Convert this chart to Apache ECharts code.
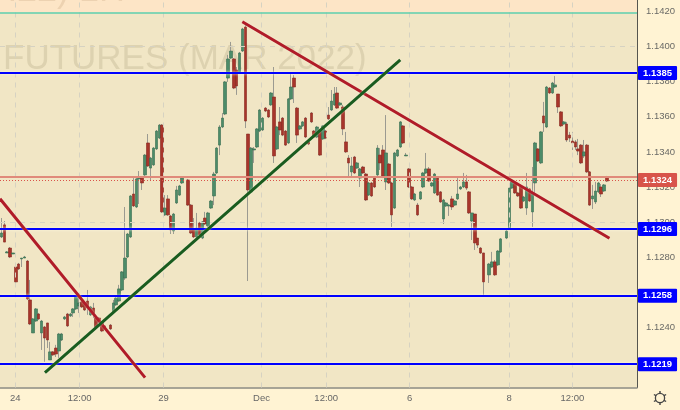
<!DOCTYPE html>
<html><head><meta charset="utf-8">
<style>html,body{margin:0;padding:0;background:#fff3d3}#c{width:680px;height:410px}</style>
<script src="https://cdn.jsdelivr.net/npm/echarts@6/dist/echarts.min.js"></script>
</head><body><div id="c"></div>
<script>
const opens=[1.12915,1.12984,1.12824,1.12852,1.12818,1.12744,1.12761,1.12790,1.12795,1.12778,1.12556,1.12368,1.12436,1.12476,1.12368,1.12402,1.12425,1.12214,1.12260,1.12282,1.12265,1.12328,1.12448,1.12476,1.12465,1.12482,1.12505,1.12522,1.12545,1.12539,1.12550,1.12471,1.12510,1.12453,1.12453,1.12431,1.12408,null,1.12413,1.12488,1.12528,1.12550,1.12613,1.12681,1.12801,1.12915,1.13160,1.13086,1.13246,1.13251,1.13269,1.13451,1.13308,1.13326,1.13417,1.13479,1.13553,1.13041,1.13132,1.13035,1.12949,1.13109,1.13154,1.13223,null,1.13240,1.13097,1.12955,1.12915,1.12995,1.12909,1.13023,1.12978,1.13080,1.13149,1.13280,1.13439,1.13542,1.13616,1.13821,1.13935,1.13930,1.13867,1.13856,1.13975,1.14112,1.13502,1.13172,1.13411,1.13428,1.13519,1.13525,1.13650,1.13639,1.13668,1.13713,1.13417,1.13571,1.13593,1.13519,1.13451,1.13702,1.13821,1.13650,1.13531,1.13548,1.13593,1.13457,1.13622,1.13519,1.13485,1.13519,1.13474,1.13519,1.13610,1.13639,1.13668,1.13736,1.13668,1.13656,1.13457,1.13365,1.13286,1.13371,1.13308,1.13251,1.13314,1.13274,1.13154,1.13223,1.13257,1.13269,1.13382,1.13411,1.13229,1.13331,1.13223,1.13080,1.13377,1.13428,1.13548,1.13377,1.13303,1.13200,1.13126,1.13097,1.13132,1.13200,1.13280,1.13303,1.13206,1.13166,1.13251,1.13172,1.13018,1.13092,1.13092,1.13132,1.13097,1.13132,1.13189,1.13200,1.13229,1.13172,1.13006,1.13046,1.12909,1.12852,1.12824,null,1.12699,1.12744,1.12773,1.12756,1.12830,null,1.12909,1.12961,1.13194,1.13217,1.13166,1.13200,1.13120,1.13080,1.13189,1.13058,1.13223,1.13417,1.13337,1.13605,1.13542,1.13764,1.13736,1.13770,1.13730,1.13628,1.13559,1.13559,1.13496,1.13462,1.13457,1.13417,1.13439,1.13377,1.13439,1.13286,1.13132,1.13115,1.13172,1.13200,1.13177,1.13257];
const closes=[1.12938,1.12886,1.12830,1.12801,1.12824,1.12659,1.12733,1.12795,1.12801,1.12562,1.12419,1.12448,1.12505,1.12448,1.12436,1.12339,1.12328,1.12260,1.12243,1.12248,1.12362,1.12362,1.12459,1.12408,1.12476,1.12505,1.12573,1.12539,1.12516,1.12499,1.12510,1.12516,1.12482,1.12402,1.12431,1.12379,1.12402,null,1.12391,1.12539,1.12567,1.12619,1.12716,1.12795,1.12932,1.13149,1.13092,1.13246,1.13251,1.13223,1.13382,1.13320,1.13365,1.13422,1.13519,1.13553,1.13058,1.13080,1.13041,1.12955,1.13046,1.13183,1.13206,1.13251,null,1.13097,1.12938,1.12915,1.12966,1.12927,1.13001,1.12989,1.13052,1.13120,1.13274,1.13422,1.13542,1.13593,1.13799,1.13930,1.13975,1.13764,1.13776,1.13964,1.14101,1.13576,1.13183,1.13422,1.13417,1.13531,1.13639,1.13593,1.13633,1.13599,1.13736,1.13377,1.13542,1.13525,1.13496,1.13439,1.13702,1.13770,1.13770,1.13496,1.13548,1.13571,1.13485,1.13445,1.13571,1.13485,1.13542,1.13382,1.13548,1.13479,1.13588,1.13690,1.13730,1.13650,1.13679,1.13531,1.13400,1.13337,1.13320,1.13280,1.13337,1.13303,1.13280,1.13126,1.13223,1.13149,1.13200,1.13422,1.13337,1.13263,1.13394,1.13223,1.13041,1.13394,1.13411,1.13571,1.13451,1.13382,1.13200,1.13132,1.13160,1.13041,1.13172,1.13280,1.13303,1.13234,1.13223,1.13274,1.13154,1.13115,1.13126,1.13109,1.13097,1.13086,1.13120,1.13160,1.13200,1.13229,1.13194,1.13052,1.13052,1.12881,1.12869,1.12824,1.12659,null,1.12761,1.12773,1.12699,1.12835,1.12904,null,1.12949,1.13194,1.13229,1.13166,1.13149,1.13080,1.13143,1.13200,1.13120,1.13166,1.13451,1.13348,1.13514,1.13565,1.13770,1.13736,1.13793,1.13782,1.13656,1.13548,1.13571,1.13468,1.13479,1.13451,1.13428,1.13405,1.13337,1.13400,1.13286,1.13097,1.13149,1.13177,1.13223,1.13160,1.13212,1.13234];
const lows=[1.12909,1.12886,1.12824,1.12795,1.12818,1.12653,1.12727,1.12744,1.12795,1.12556,1.12413,1.12368,1.12431,1.12442,1.12271,1.12203,1.12282,1.12214,1.12237,1.12231,1.12225,1.12322,1.12442,1.12402,1.12459,1.12459,1.12499,1.12482,1.12510,1.12493,1.12471,1.12465,1.12453,1.12396,1.12425,1.12373,1.12396,null,1.12385,1.12482,1.12522,1.12545,1.12607,1.12670,1.12795,1.12909,1.13086,1.13080,1.13103,1.13183,1.13263,1.13314,1.13234,1.13320,1.13411,1.13473,1.13052,1.13035,1.13035,1.12932,1.12932,1.13103,1.13149,1.13217,null,1.13092,1.12932,1.12909,1.12909,1.12921,1.12903,1.12983,1.12972,1.13075,1.13097,1.13274,1.13382,1.13536,1.13610,1.13799,1.13930,1.13758,1.13725,1.13850,1.13970,1.13536,1.12664,1.13166,1.13337,1.13422,1.13513,1.13519,1.13627,1.13593,1.13662,1.13337,1.13411,1.13496,1.13490,1.13434,1.13445,1.13696,1.13679,1.13451,1.13525,1.13542,1.13479,1.13439,1.13565,1.13479,1.13479,1.13377,1.13468,1.13473,1.13582,1.13633,1.13662,1.13645,1.13662,1.13496,1.13394,1.13257,1.13257,1.13274,1.13303,1.13200,1.13274,1.13120,1.13149,1.13143,1.13194,1.13263,1.13297,1.13251,1.13183,1.13217,1.12972,1.13075,1.13371,1.13422,1.13445,1.13377,1.13194,1.13126,1.13120,1.13035,1.13126,1.13194,1.13274,1.13229,1.13200,1.13160,1.13149,1.13109,1.12989,1.13086,1.13035,1.13069,1.13092,1.13126,1.13183,1.13194,1.13183,1.13046,1.12898,1.12841,1.12852,1.12818,1.12585,null,1.12653,1.12738,1.12693,1.12750,1.12824,null,1.12903,1.12955,1.13189,1.13160,1.13143,1.13075,1.13115,1.13041,1.13115,1.12972,1.13160,1.13343,1.13331,1.13514,1.13536,1.13730,1.13730,1.13764,1.13622,1.13542,1.13553,1.13457,1.13457,1.13411,1.13411,1.13382,1.13331,1.13365,1.13280,1.13092,1.13075,1.13103,1.13166,1.13143,1.13172,1.13229];
const highs=[1.13023,1.13006,1.12835,1.12858,1.12824,1.12750,1.12767,1.12795,1.12807,1.12784,1.12670,1.12453,1.12510,1.12482,1.12442,1.12408,1.12425,1.12317,1.12265,1.12300,1.12368,1.12368,1.12465,1.12482,1.12482,1.12510,1.12579,1.12596,1.12550,1.12545,1.12613,1.12522,1.12539,1.12459,1.12459,1.12436,1.12413,null,1.12419,1.12556,1.12573,1.12642,1.12721,1.13086,1.12938,1.13154,1.13251,1.13251,1.13291,1.13257,1.13388,1.13502,1.13371,1.13428,1.13525,1.13559,1.13559,1.13154,1.13154,1.13041,1.13052,1.13206,1.13212,1.13257,null,1.13246,1.13103,1.13023,1.13052,1.13001,1.13006,1.13058,1.13058,1.13126,1.13286,1.13428,1.13553,1.13622,1.13804,1.13953,1.14027,1.13935,1.13884,1.13970,1.14107,1.14135,1.13502,1.13428,1.13428,1.13536,1.13644,1.13599,1.13656,1.13644,1.13741,1.13884,1.13548,1.13656,1.13599,1.13525,1.13707,1.13850,1.13838,1.13656,1.13553,1.13576,1.13599,1.13462,1.13627,1.13525,1.13548,1.13525,1.13553,1.13525,1.13656,1.13753,1.13770,1.13770,1.13685,1.13668,1.13514,1.13382,1.13371,1.13377,1.13343,1.13308,1.13320,1.13280,1.13229,1.13229,1.13263,1.13439,1.13422,1.13439,1.13610,1.13337,1.13229,1.13400,1.13417,1.13576,1.13553,1.13394,1.13308,1.13206,1.13166,1.13109,1.13177,1.13286,1.13394,1.13314,1.13229,1.13280,1.13257,1.13177,1.13132,1.13115,1.13103,1.13149,1.13126,1.13251,1.13206,1.13280,1.13269,1.13177,1.13052,1.13046,1.12909,1.12858,1.12824,null,1.12767,1.12830,1.12784,1.12841,1.12909,null,1.12955,1.13200,1.13234,1.13223,1.13172,1.13212,1.13149,1.13280,1.13194,1.13314,1.13457,1.13422,1.13519,1.13685,1.13776,1.13770,1.13799,1.13833,1.13730,1.13633,1.13576,1.13571,1.13514,1.13514,1.13468,1.13474,1.13445,1.13468,1.13445,1.13291,1.13212,1.13229,1.13229,1.13217,1.13217,1.13263];

const barCount=222;
const xTickBars=[4.82,27.23,56.46,90.66,113.2,142.3,176.9,199];
const xTickLabels=['24','12:00','29','Dec','12:00','6','8','12:00'];
const yTicks=[1.124,1.126,1.128,1.13,1.132,1.134,1.136,1.138,1.14,1.142];
const supportLevels=[1.1385,1.1296,1.1258,1.1219];
const lastPrice=1.1324;
const openLevel=1.13259;
const topLevel=1.14194;
const yMin=1.12057;
const yMax=1.14266;
const redTrendA=[[-0.5,1.13133],[50.06,1.12113]];
const redTrendB=[[83.95,1.14142],[211.9,1.12908]];
const greenTrend=[[15.16,1.12142],[139.0,1.13924]];
const titleLine1='6EH22) 1H';
const titleLine2='FUTURES (MAR 2022)';

const cats=opens.map((_,i)=>String(i));
while(cats.length<barCount)cats.push(String(cats.length));
const full=opens.map((o,i)=>o==null?['-','-','-','-']:[o,closes[i],lows[i],highs[i]]);
const bodies=opens.map((o,i)=>o==null?['-','-','-','-']:[o,closes[i],Math.min(o,closes[i]),Math.max(o,closes[i])]);

const FONT='"Liberation Sans",Arial,sans-serif';
const halo={shadowColor:'rgba(255,252,232,0.9)',shadowBlur:3};
const gridDash={color:'#d6d2c2',type:[5,5],width:1};
const tag=(bg)=>({show:true,position:'end',distance:1,formatter:p=>p.value.toFixed(4),color:'#fff',fontFamily:FONT,fontSize:9.5,fontWeight:'bold',backgroundColor:bg,padding:[1,5,1,5],borderRadius:1,height:12,lineHeight:12});
const trend=(data,color)=>({type:'line',xAxisIndex:1,yAxisIndex:0,data,symbol:'none',z:6,silent:true,lineStyle:{color,width:3,shadowColor:'rgba(255,252,232,0.6)',shadowBlur:2},emphasis:{disabled:true}});
const gearTeeth=[[660,391,660,393.4],[660,402.6,660,405],[653.9,394.5,656,395.7],[664,400.3,666.1,401.5],[653.9,401.5,656,400.3],[664,395.7,666.1,394.5]];

const chart=echarts.init(document.getElementById('c'),null,{renderer:'canvas',width:680,height:410});
chart.setOption({
 animation:false,
 backgroundColor:'#fff3d3',
 grid:{left:-1,top:0,width:638,height:387.5,show:true,backgroundColor:'#f1e6c5',borderWidth:0,z:-2},
 xAxis:[
  {type:'category',data:cats,show:false,boundaryGap:true},
  {type:'value',min:-0.5,max:221.5,position:'bottom',z:1,
   axisLine:{show:true,lineStyle:{color:'#8a8a82',width:1.5},onZero:false},
   axisTick:{show:false,customValues:xTickBars},
   axisLabel:{customValues:xTickBars,color:'#666',fontFamily:FONT,fontSize:9.5,margin:6,hideOverlap:false,
     formatter:v=>{const k=xTickBars.findIndex(t=>Math.abs(t-v)<0.01);return k<0?'':xTickLabels[k];}},
   splitLine:{show:false}}
 ],
 yAxis:[{type:'value',position:'right',min:yMin,max:yMax,z:1,
   axisLine:{show:true,onZero:false,lineStyle:{color:'#55554f',width:1}},
   axisTick:{show:false,customValues:yTicks},
   axisLabel:{customValues:yTicks,color:'#6a6a66',fontFamily:FONT,fontSize:9.5,margin:9,formatter:v=>v.toFixed(4)},
   splitLine:{show:false}}],
 graphic:[
  {type:'text',z:2,silent:true,x:125,y:-9,style:{text:titleLine1,textAlign:'right',textVerticalAlign:'middle',font:'36px '+FONT,fill:'rgba(140,100,50,0.14)'}},
  {type:'text',z:2,silent:true,x:3,y:59,style:{text:titleLine2,textAlign:'left',textVerticalAlign:'middle',font:'35px '+FONT,fill:'rgba(120,105,70,0.16)'}},
  {type:'circle',z:10,silent:true,shape:{cx:660,cy:398,r:4.6},style:{fill:'none',stroke:'#444',lineWidth:1.3}}
 ].concat(gearTeeth.map(t=>({type:'line',z:10,silent:true,shape:{x1:t[0],y1:t[1],x2:t[2],y2:t[3]},style:{stroke:'#444',lineWidth:1.4}}))),
 series:[
  {type:'line',xAxisIndex:1,yAxisIndex:0,data:[[-0.5,yMax]],symbol:'none',z:1,silent:true,
   markArea:{silent:true,itemStyle:{color:'#fde5c6'},data:[[{yAxis:topLevel},{yAxis:yMax}]]},
   markLine:{silent:true,symbol:'none',animation:false,label:{show:false},lineStyle:gridDash,
     data:yTicks.map(v=>({yAxis:v})).concat(xTickBars.map(v=>({xAxis:v})))}},
  {type:'candlestick',xAxisIndex:0,yAxisIndex:0,data:full,z:3,barWidth:1,silent:true,
   itemStyle:{color:'#96968e',color0:'#96968e',borderColor:'#96968e',borderColor0:'#96968e',borderWidth:1,opacity:0.95}},
  {type:'candlestick',xAxisIndex:0,yAxisIndex:0,data:bodies,z:4,barWidth:3,silent:true,
   itemStyle:{color:'#4c8c69',color0:'#a8352b',borderColor:'#356b4f',borderColor0:'#86261f',borderWidth:0.6}},
  {type:'line',xAxisIndex:1,data:[],z:5,silent:true,
   markLine:{silent:true,symbol:'none',animation:false,precision:5,
    data:[
     {yAxis:topLevel,lineStyle:{color:'#5ccfae',width:1.5,type:'solid'},label:{show:false}},
     {yAxis:openLevel,lineStyle:{color:'#e08a7a',width:2,type:'solid'},label:{show:false}},
     {yAxis:lastPrice,lineStyle:{color:'#d9534a',width:1,type:[1,2]},label:tag('#d8544a')},
     {yAxis:supportLevels[0],lineStyle:{color:'#0000ff',width:2,type:'solid',...halo},label:tag('#0000ff')},
     {yAxis:supportLevels[1],lineStyle:{color:'#0000ff',width:2,type:'solid',...halo},label:tag('#0000ff')},
     {yAxis:supportLevels[2],lineStyle:{color:'#0000ff',width:2,type:'solid',...halo},label:tag('#0000ff')},
     {yAxis:supportLevels[3],lineStyle:{color:'#0000ff',width:2,type:'solid',...halo},label:tag('#0000ff')}
    ]}},
  trend(redTrendA,'#b01c28'),
  trend(redTrendB,'#b01c28'),
  trend(greenTrend,'#1a5c1f')
 ]
});
</script></body></html>
